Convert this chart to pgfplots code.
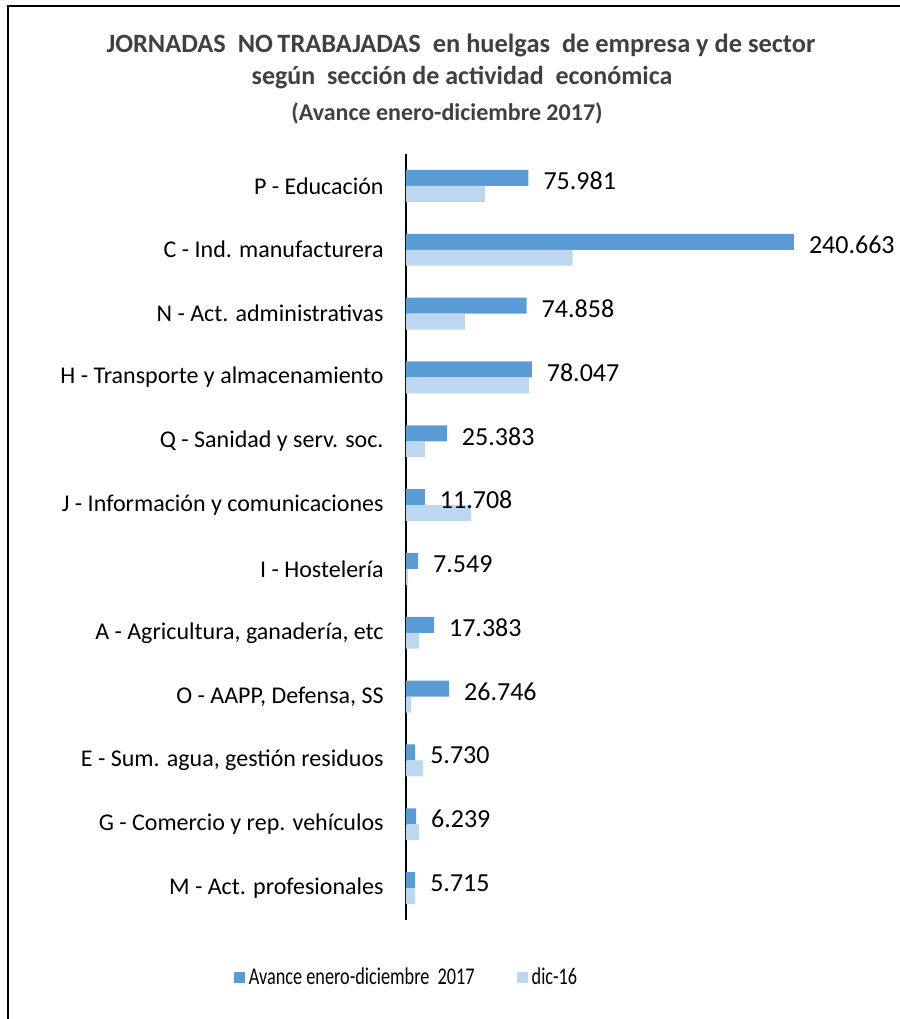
\documentclass[border=0pt]{standalone}
\usepackage{pgfplots}
\pgfplotsset{compat=1.18}
\usepackage{fontspec}
\setmainfont{Carlito}
\newfontfamily\condfont[FakeStretch=0.76]{Carlito}
\definecolor{dark}{HTML}{5B9BD5}
\definecolor{light}{HTML}{BDD7EE}
\definecolor{titlegray}{HTML}{404040}
\newlength\px \setlength\px{0.5pt}
\begin{document}
\begin{tikzpicture}
\path[use as bounding box] (0,0) rectangle (900\px,1019\px);
\draw[line width=1pt] (8\px,0) -- (8\px,1013\px) -- (900\px,1013\px);
\node[font=\bfseries\fontsize{13.2}{15}\selectfont, text=titlegray] at (461\px,974\px) {JORNADAS\ \ NO\,TRABAJADAS\ \ en huelgas\ \ de empresa y de sector};
\node[font=\bfseries\fontsize{13}{15}\selectfont, text=titlegray] at (462\px,941\px) {según\ \ sección de actividad\ \ económica};
\node[font=\bfseries\fontsize{12}{14}\selectfont, text=titlegray] at (447\px,906\px) {(Avance enero-diciembre 2017)};
\begin{axis}[
  at={(406\px,99\px)}, anchor=south west,
  scale only axis, width=403\px, height=766\px,
  xmin=0, xmax=250000, ymin=-0.5, ymax=11.5, y dir=reverse,
  axis y line=left, axis x line=none,
  y axis line style={-, line width=1pt, black},
  ytick={0,...,11},
  yticklabels={P - Educación, C - Ind. manufacturera, N - Act. administrativas, H - Transporte y almacenamiento, Q - Sanidad y serv. soc., J - Información y comunicaciones, I - Hostelería, {A - Agricultura, ganadería, etc}, {O - AAPP, Defensa, SS}, {E - Sum. agua, gestión residuos}, G - Comercio y rep. vehículos, M - Act. profesionales},
  yticklabel style={font=\fontsize{12}{14}\selectfont, inner sep=0pt, xshift=-11pt},
  major tick length=0pt,
  xtick=\empty,
  xbar, bar width=0.25,
  legend style={at={(0.004,-0.0757)}, anchor=center, draw=none, legend columns=2,
    font=\condfont\fontsize{12}{14}\selectfont,
    /tikz/every even column/.append style={column sep=19pt},
    /tikz/every node/.append style={inner xsep=2pt}},
  legend image code/.code={\fill[#1] (0pt,-2.75pt) rectangle (5.5pt,2.75pt);},
]
\addplot[fill=dark, draw=none, bar shift=-0.125, point meta=explicit symbolic,
  nodes near coords, nodes near coords style={anchor=west, font=\fontsize{13}{15}\selectfont, xshift=4pt, yshift=-1.5pt, text=black}]
  coordinates {(75981,0) [75.981] (240663,1) [240.663] (74858,2) [74.858] (78047,3) [78.047]
   (25383,4) [25.383] (11708,5) [11.708] (7549,6) [7.549] (17383,7) [17.383]
   (26746,8) [26.746] (5730,9) [5.730] (6239,10) [6.239] (5715,11) [5.715]};
\addplot[fill=light, draw=none, bar shift=0.125]
  coordinates {(48900,0) (103400,1) (36700,2) (76300,3) (11800,4) (40400,5)
   (1100,6) (8100,7) (3200,8) (10600,9) (8100,10) (5700,11)};
\legend{Avance enero-diciembre\ \ 2017, dic-16}
\end{axis}
\end{tikzpicture}
\end{document}
